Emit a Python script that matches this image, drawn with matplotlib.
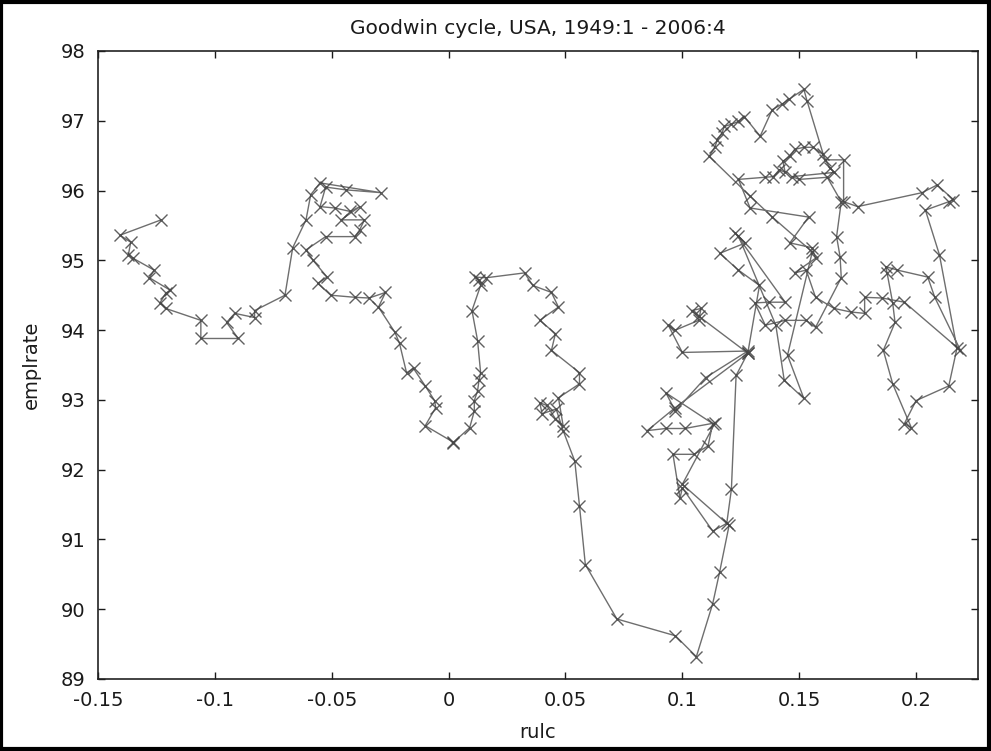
import numpy as np
import matplotlib
matplotlib.use("Agg")
from matplotlib import pyplot as plt
from matplotlib.patches import Rectangle

# quarterly observations, 1949:1 onwards, four per row
rulc = [
    0.124, 0.140, 0.1436, 0.152,
    0.145, 0.1556, 0.1385, 0.129,
    0.1115, 0.114, 0.115, 0.117,
    0.118, 0.121, 0.124, 0.1265,
    0.1333, 0.1385, 0.1427, 0.1457,
    0.152, 0.1534, 0.161, 0.169,
    0.169, 0.175, 0.2026, 0.209,
    0.216, 0.214, 0.204, 0.210,
    0.2175, 0.214, 0.200, 0.195,
    0.198, 0.190, 0.186, 0.191,
    0.190, 0.1876, 0.187, 0.192,
    0.205, 0.208, 0.219, 0.195,
    0.1855, 0.178, 0.178, 0.172,
    0.165, 0.157, 0.153, 0.148,
    0.157, 0.1556, 0.146, 0.154,
    0.129, 0.124, 0.1355, 0.139,
    0.1415, 0.144, 0.143, 0.146,
    0.148, 0.152, 0.156, 0.160,
    0.163, 0.165, 0.147, 0.150,
    0.162, 0.168, 0.166, 0.1675,
    0.168, 0.157, 0.153, 0.144,
    0.1355, 0.131, 0.137, 0.144,
    0.1227, 0.127, 0.116, 0.124,
    0.133, 0.128, 0.123, 0.121,
    0.119, 0.113, 0.100, 0.099,
    0.096, 0.105, 0.111, 0.113,
    0.093, 0.097, 0.110, 0.128,
    0.100, 0.094, 0.097, 0.107,
    0.108, 0.104, 0.107, 0.128,
    0.097, 0.085, 0.093, 0.101,
    0.114, 0.100, 0.120, 0.116,
    0.113, 0.106,
    0.097, 0.072, 0.0585, 0.056,
    0.054, 0.049, 0.046, 0.040,
    0.039, 0.042, 0.0457, 0.049,
    0.047, 0.056, 0.056, 0.044,
    0.0457, 0.039, 0.047, 0.044,
    0.036, 0.0325, 0.016, 0.0115,
    0.013, 0.0137, 0.010, 0.0124,
    0.0137, 0.013, 0.0124, 0.011,
    0.011, 0.009, 0.0017, 0.0017,
    -0.010, -0.0055, -0.006, -0.010,
    -0.015, -0.018, -0.021, -0.023,
    -0.030, -0.027, -0.034, -0.040,
    -0.0504, -0.056, -0.052, -0.058,
    -0.061, -0.0526, -0.040, -0.038,
    -0.036, -0.046, -0.038, -0.042,
    -0.0487, -0.055, -0.0526, -0.044,
    -0.029, -0.055, -0.059, -0.061,
    -0.0667, -0.070, -0.083, -0.083,
    -0.0915, -0.095, -0.090, -0.106,
    -0.106, -0.121, -0.1235, -0.121,
    -0.119, -0.128, -0.126, -0.135,
    -0.137, -0.136, -0.1406, -0.123,
]

emplrate = [
    95.35, 94.07, 93.28, 93.02,
    93.64, 95.12, 95.62, 95.92,
    96.49, 96.63, 96.73, 96.83,
    96.92, 96.95, 96.99, 97.06,
    96.78, 97.16, 97.24, 97.31,
    97.45, 97.28, 96.44, 96.44,
    95.84, 95.77, 95.97, 96.08,
    95.87, 95.84, 95.72, 95.08,
    93.74, 93.20, 92.99, 92.66,
    92.60, 93.23, 93.71, 94.11,
    94.39, 94.82, 94.91, 94.86,
    94.76, 94.47, 93.71, 94.40,
    94.46, 94.47, 94.24, 94.26,
    94.31, 94.47, 94.86, 94.82,
    95.03, 95.18, 95.25, 95.62,
    95.75, 96.16, 96.19, 96.20,
    96.30, 96.26, 96.42, 96.49,
    96.59, 96.62, 96.62, 96.52,
    96.33, 96.26, 96.20, 96.16,
    96.19, 95.84, 95.34, 95.05,
    94.75, 94.04, 94.14, 94.14,
    94.07, 94.39, 94.40, 94.40,
    95.39, 95.25, 95.10, 94.86,
    94.64, 93.67, 93.35, 91.72,
    91.23, 91.12, 91.74, 91.59,
    92.22, 92.22, 92.34, 92.66,
    93.10, 92.84, 93.32, 93.70,
    93.68, 94.07, 94.00, 94.14,
    94.31, 94.28, 94.20, 93.67,
    92.89, 92.56, 92.59, 92.59,
    92.67, 91.79, 91.20, 90.54,
    90.08, 89.32,
    89.62, 89.86, 90.64, 91.48,
    92.12, 92.56, 92.87, 92.80,
    92.96, 92.92, 92.73, 92.63,
    93.03, 93.23, 93.39, 93.71,
    93.95, 94.14, 94.33, 94.54,
    94.64, 94.82, 94.75, 94.76,
    94.72, 94.64, 94.28, 93.85,
    93.39, 93.28, 93.13, 92.99,
    92.84, 92.60, 92.38, 92.40,
    92.63, 92.89, 92.99, 93.20,
    93.45, 93.39, 93.81, 93.97,
    94.33, 94.54, 94.46, 94.47,
    94.50, 94.67, 94.76, 95.00,
    95.15, 95.34, 95.34, 95.44,
    95.58, 95.58, 95.77, 95.70,
    95.75, 95.77, 96.05, 96.01,
    95.97, 96.11, 95.94, 95.58,
    95.18, 94.50, 94.28, 94.18,
    94.24, 94.11, 93.88, 93.88,
    94.14, 94.31, 94.39, 94.53,
    94.57, 94.75, 94.86, 95.03,
    95.08, 95.26, 95.36, 95.58,
]

xticks = [-0.15, -0.1, -0.05, 0, 0.05, 0.1, 0.15, 0.2]
xticklabels = ['-0.15', '-0.1', '-0.05', '0', '0.05', '0.1', '0.15', '0.2']
yticks = list(range(89, 99))

plt.rcParams['font.family'] = ['DejaVu Sans']

fig = plt.figure(figsize=(9.91, 7.51), dpi=100)
ax = fig.add_axes([98 / 991, 1 - 679 / 751, 880 / 991, 628 / 751])

ax.plot(rulc, emplrate, color='#555555', linewidth=1.0, alpha=0.85,
        marker='x', markersize=8.5, markeredgewidth=1.0,
        markeredgecolor='#444444')

ax.set_xlim(-0.15, 0.2265)
ax.set_ylim(89, 98)
ax.set_xticks(xticks)
ax.set_xticklabels(xticklabels)
ax.set_yticks(yticks)
ax.tick_params(direction='in', length=5, width=1, top=True, right=True,
               labelsize=14, pad=9, colors='#1a1a1a')
for side in ax.spines.values():
    side.set_linewidth(1.2)
    side.set_color('#222222')

ax.set_title('Goodwin cycle, USA, 1949:1 - 2006:4', fontsize=14.5, pad=12,
             color='#1a1a1a')
ax.set_xlabel('rulc', fontsize=14, labelpad=9, color='#1a1a1a')
ax.set_ylabel('emplrate', fontsize=14, labelpad=14, color='#1a1a1a')

# heavy frame around the whole image
fig.patches.append(Rectangle((0.0015, 0.002), 0.996, 0.995,
                             transform=fig.transFigure, fill=False,
                             edgecolor='black', linewidth=3))

fig.savefig('out.png', dpi=100)
